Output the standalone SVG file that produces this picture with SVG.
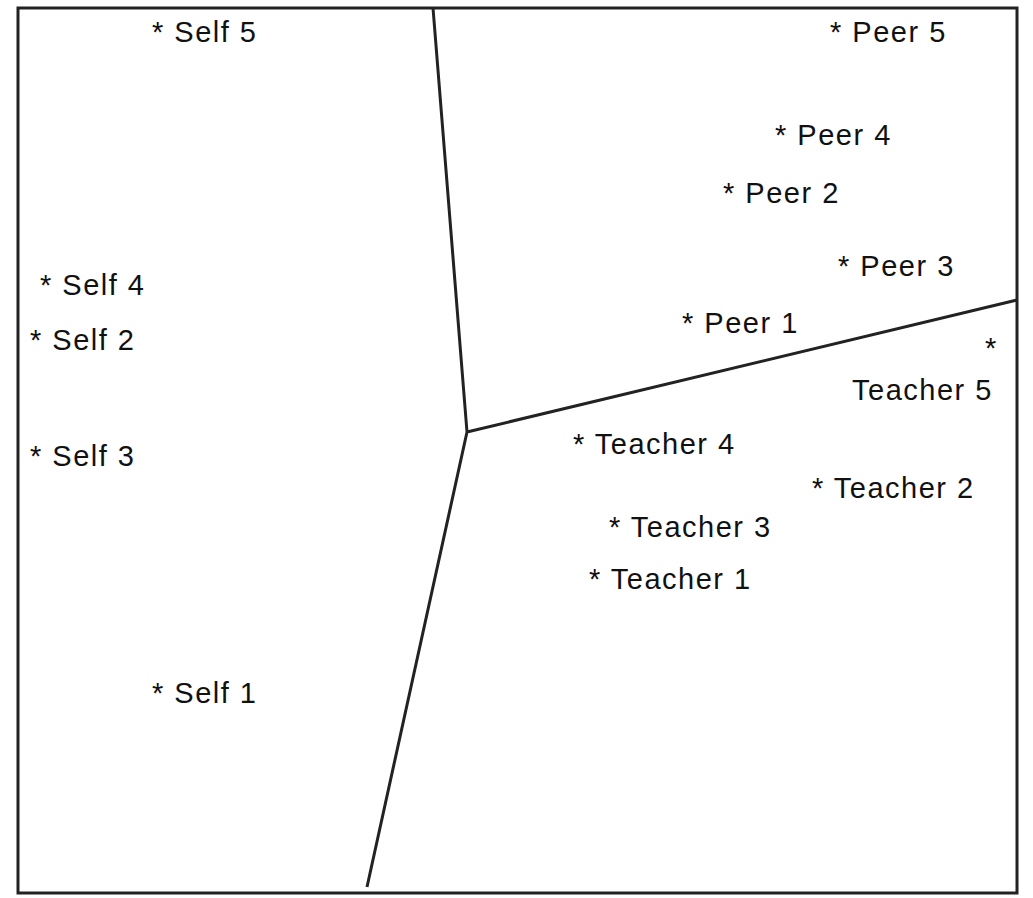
<svg xmlns="http://www.w3.org/2000/svg" width="1033" height="898" viewBox="0 0 1033 898">
<style>text{font-family:"Liberation Sans",Arial,sans-serif;font-size:29px;letter-spacing:1.5px;fill:#111}.l{stroke:#222;stroke-width:3;fill:none}</style>
<rect width="1033" height="898" fill="#fff"/>
<rect x="18" y="8" width="999" height="885" class="l"/>
<g id="connectors">
<path class="l" d="M467 432L433 8M467 432L1017 300M467 432L367 887"/>
</g>
<text x="152" y="42">* Self 5</text>
<text x="40" y="295">* Self 4</text>
<text x="30" y="350">* Self 2</text>
<text x="30" y="466">* Self 3</text>
<text x="152" y="703">* Self 1</text>
<text x="830" y="42">* Peer 5</text>
<text x="775" y="145">* Peer 4</text>
<text x="723" y="203">* Peer 2</text>
<text x="838" y="276">* Peer 3</text>
<text x="682" y="333">* Peer 1</text>
<text x="985" y="358">*</text>
<text x="852" y="400">Teacher 5</text>
<text x="573" y="454">* Teacher 4</text>
<text x="812" y="498">* Teacher 2</text>
<text x="609" y="537">* Teacher 3</text>
<text x="589" y="589">* Teacher 1</text>
</svg>
